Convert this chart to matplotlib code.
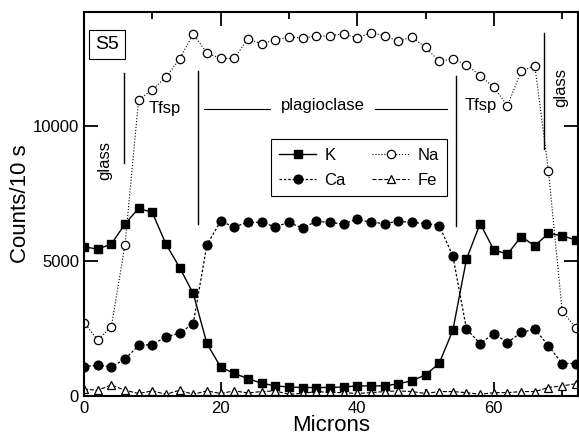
import numpy as np
import matplotlib
matplotlib.use("Agg")
import matplotlib.pyplot as plt
from matplotlib.ticker import MultipleLocator

plt.rcParams['font.family'] = ['Liberation Sans', 'DejaVu Sans']

# position along the traverse (microns)
microns = np.arange(0, 73, 2)

# counts per 10 s
k = [5520, 5430, 5620, 6360, 6940, 6790, 5620, 4750, 3790, 1940,
     1070, 830, 640, 470, 370, 330, 310, 310, 310, 330,
     370, 370, 370, 450, 556, 780, 1200, 2430, 5060, 6380,
     5400, 5250, 5890, 5560, 6010, 5930, 5770]
na = [2716, 2074, 2556, 5580, 10960, 11330, 11790, 12470, 13395, 12690,
      12490, 12490, 13210, 13030, 13180, 13280, 13250, 13307, 13333, 13395,
      13250, 13432, 13333, 13123, 13280, 12900, 12383, 12469, 12259, 11852,
      11420, 10741, 12012, 12222, 8333, 3148, 2506]
ca = [1085, 1136, 1074, 1359, 1870, 1900, 2185, 2320, 2678, 5593,
      6456, 6259, 6420, 6420, 6260, 6420, 6210, 6460, 6420, 6360,
      6540, 6420, 6380, 6460, 6420, 6380, 6300, 5185, 2470, 1937,
      2307, 1975, 2346, 2469, 1852, 1198, 1198]
fe = [250, 210, 400, 210, 90, 185, 60, 210, 60, 185,
      90, 185, 110, 160, 185, 60, 90, 160, 130, 120,
      90, 120, 160, 185, 160, 90, 160, 160, 120, 60,
      120, 120, 160, 160, 310, 370, 450]

fig = plt.figure(figsize=(5.79, 4.36), dpi=100)
ax = fig.add_axes([0.145, 0.092, 0.853, 0.88])

ms = 5.5
ax.plot(microns, k, '-', color='black', lw=1.0, marker='s', ms=ms,
        mfc='black', mec='black', label='K')
ax.plot(microns, na, ':', color='black', lw=0.8, marker='o', ms=ms + 0.5,
        mfc='white', mec='black', mew=0.9, label='Na')
ax.plot(microns, ca, color='black', lw=0.9, ls=(0, (2, 1.5)), marker='o', ms=ms + 0.8,
        mfc='black', mec='black', label='Ca')
ax.plot(microns, fe, '--', color='black', lw=0.8, marker='^', ms=ms + 0.5,
        mfc='white', mec='black', mew=0.9, label='Fe')

ax.set_xlim(0, 72.3)
ax.set_ylim(0, 14200)
ax.xaxis.set_major_locator(MultipleLocator(20))
ax.xaxis.set_minor_locator(MultipleLocator(10))
ax.set_yticks([0, 5000, 10000])
ax.tick_params(which='both', direction='in', top=True, right=True, width=1.3)
ax.tick_params(which='major', length=10, labelsize=12)
ax.tick_params(which='minor', length=5)
ax.tick_params(axis='x', pad=4)
for s in ax.spines.values():
    s.set_linewidth(1.5)

ax.set_xlabel('Microns', fontsize=16, labelpad=-1)
ax.set_ylabel('Counts/10 s', fontsize=16, labelpad=1)

# phase boundaries and labels
ax.plot([5.9, 5.9], [8630, 11960], color='black', lw=1)
ax.plot([16.7, 16.7], [6370, 12040], color='black', lw=1)
ax.plot([54.4, 54.4], [6300, 11850], color='black', lw=1)
ax.plot([67.3, 67.3], [9150, 13440], color='black', lw=1)
ax.plot([17.6, 27.2], [10630, 10630], color='black', lw=0.8)
ax.plot([42.6, 53.2], [10630, 10630], color='black', lw=0.8)
ax.text(3.1, 8700, 'glass', rotation=90, ha='center', va='center', fontsize=12)
ax.text(11.9, 10630, 'Tfsp', ha='center', va='center', fontsize=12)
ax.text(34.9, 10750, 'plagioclase', ha='center', va='center', fontsize=12)
ax.text(58.1, 10740, 'Tfsp', ha='center', va='center', fontsize=12)
ax.text(69.8, 11400, 'glass', rotation=90, ha='center', va='center', fontsize=12)
ax.text(0.022, 0.915, 'S5', transform=ax.transAxes, ha='left', va='center', fontsize=14,
        bbox=dict(boxstyle='square,pad=0.3', fc='white', ec='black', lw=0.8))

h, l = ax.get_legend_handles_labels()
order = [0, 2, 1, 3]
leg = ax.legend([h[i] for i in order], [l[i] for i in order], ncol=2,
                loc='upper left', bbox_to_anchor=(0.362, 0.69), fontsize=12,
                frameon=True, fancybox=False, edgecolor='black', framealpha=1,
                handlelength=2.2, columnspacing=1.6, handletextpad=0.5,
                borderpad=0.5, labelspacing=0.6)
leg.get_frame().set_linewidth(0.8)

fig.savefig('out.png', dpi=100)
